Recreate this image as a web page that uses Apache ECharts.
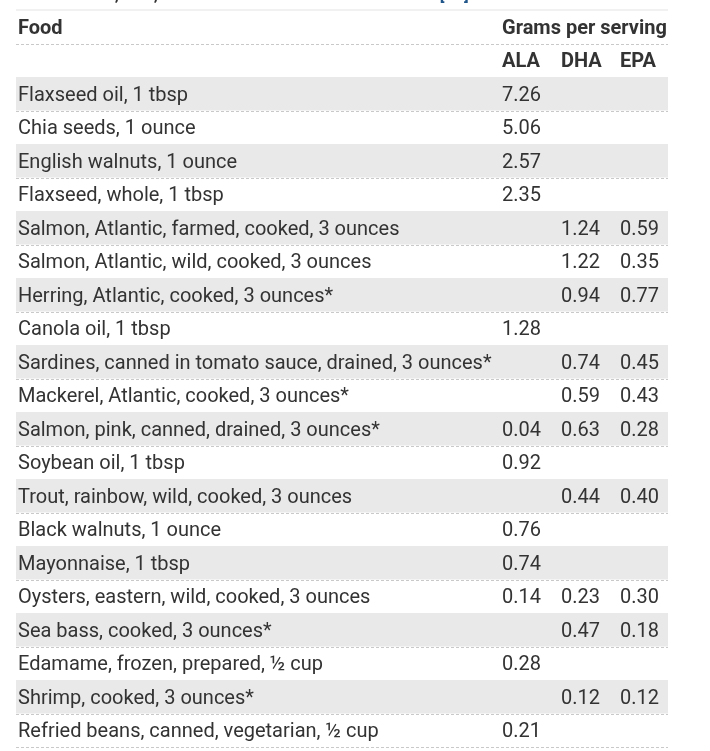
<!DOCTYPE html>
<html>
<head>
<meta charset="utf-8">
<script src="https://cdn.jsdelivr.net/npm/echarts@6/dist/echarts.min.js"></script>
<style>
  html, body { margin: 0; padding: 0; background: #fff; }
  #table { width: 710px; height: 751px; }
</style>
</head>
<body>
<div id="table"></div>
<script>
// 表格数据：食物名称 + 每份克数
const titleText = 'Table 2: ALA, EPA, and DHA Content of Selected Foods ';
const titleRef = '[27]';
const headerTop = ['Food', 'Grams per serving'];
const headerCols = ['ALA', 'DHA', 'EPA'];

const foods = [
  'Flaxseed oil, 1 tbsp',
  'Chia seeds, 1 ounce',
  'English walnuts, 1 ounce',
  'Flaxseed, whole, 1 tbsp',
  'Salmon, Atlantic, farmed, cooked, 3 ounces',
  'Salmon, Atlantic, wild, cooked, 3 ounces',
  'Herring, Atlantic, cooked, 3 ounces*',
  'Canola oil, 1 tbsp',
  'Sardines, canned in tomato sauce, drained, 3 ounces*',
  'Mackerel, Atlantic, cooked, 3 ounces*',
  'Salmon, pink, canned, drained, 3 ounces*',
  'Soybean oil, 1 tbsp',
  'Trout, rainbow, wild, cooked, 3 ounces',
  'Black walnuts, 1 ounce',
  'Mayonnaise, 1 tbsp',
  'Oysters, eastern, wild, cooked, 3 ounces',
  'Sea bass, cooked, 3 ounces*',
  'Edamame, frozen, prepared, \u00bd cup',
  'Shrimp, cooked, 3 ounces*',
  'Refried beans, canned, vegetarian, \u00bd cup',
];
const ala = [7.26, 5.06, 2.57, 2.35, null, null, null, 1.28, null, null, 0.04, 0.92, null, 0.76, 0.74, 0.14, null, 0.28, null, 0.21];
const dha = [null, null, null, null, 1.24, 1.22, 0.94, null, 0.74, 0.59, 0.63, null, 0.44, null, null, 0.23, 0.47, null, 0.12, null];
const epa = [null, null, null, null, 0.59, 0.35, 0.77, null, 0.45, 0.43, 0.28, null, 0.40, null, null, 0.30, 0.18, null, 0.12, null];

const HEADER_ROWS = 2;
const rowLabels = ['header1', 'header2', ...foods];
const colOffset = [2, 486, 545, 604];   // 各列文字相对表格左边的位置
const FONT = 'normal 400 20px Roboto, "Noto Sans", sans-serif';
const BOLD = 'normal 700 20px Roboto, "Noto Sans", sans-serif';
const TEXT_COLOR = '#333';

const fmt = v => (v == null ? '' : v.toFixed(2));

function cellTexts(idx) {
  if (idx === 0) return [headerTop[0], headerTop[1], '', ''];
  if (idx === 1) return ['', ...headerCols];
  const i = idx - HEADER_ROWS;
  return [foods[i], fmt(ala[i]), fmt(dha[i]), fmt(epa[i])];
}

function renderRow(params, api) {
  const idx = api.value(0);
  const cy = api.coord([0, idx])[1];
  const h = api.size([0, 1])[1];
  const cs = params.coordSys;
  const top = cy - h / 2;
  const bottom = cy + h / 2;
  const children = [];
  const isHeader = idx < HEADER_ROWS;
  const bodyIdx = idx - HEADER_ROWS;

  if (!isHeader && bodyIdx % 2 === 0) {
    children.push({
      type: 'rect',
      shape: { x: cs.x, y: top, width: cs.width, height: h },
      style: { fill: '#e9e9e9' },
      silent: true,
    });
  }
  if (idx === 0) {
    children.push({
      type: 'line',
      shape: { x1: cs.x, y1: top, x2: cs.x + cs.width, y2: top },
      style: { stroke: '#ececec', lineWidth: 1.5 },
    });
  }
  children.push({
    type: 'line',
    shape: { x1: cs.x, y1: Math.round(bottom) + 0.5, x2: cs.x + cs.width, y2: Math.round(bottom) + 0.5 },
    style: { stroke: '#c9c9c9', lineWidth: 1, lineDash: [3, 2] },
  });
  cellTexts(idx).forEach((t, c) => {
    if (!t) return;
    children.push({
      type: 'text',
      style: {
        x: cs.x + colOffset[c],
        y: cy + 2,
        text: t,
        font: isHeader ? BOLD : FONT,
        fill: TEXT_COLOR,
        align: 'left',
        verticalAlign: 'middle',
      },
    });
  });
  return { type: 'group', children };
}

const chart = echarts.init(document.getElementById('table'));
chart.setOption({
  animation: false,
  backgroundColor: '#fff',
  grid: { left: 16, right: 42, top: 10, bottom: 4 },
  xAxis: { type: 'value', min: 0, max: 1, show: false },
  yAxis: { type: 'category', data: rowLabels, inverse: true, show: false },
  graphic: [{
    type: 'text',
    x: 18,
    y: 4,
    style: {
      text: '{t|' + titleText + '}{r|' + titleRef + '}',
      verticalAlign: 'bottom',
      rich: {
        t: { font: 'normal 700 17px Roboto, sans-serif', fill: '#333' },
        r: { font: 'normal 700 17px Roboto, sans-serif', fill: '#20558a' },
      },
    },
  }],
  series: [{
    type: 'custom',
    renderItem: renderRow,
    data: rowLabels.map((_, i) => [i]),
    encode: { y: 0 },
    silent: true,
  }],
});
</script>
</body>
</html>
